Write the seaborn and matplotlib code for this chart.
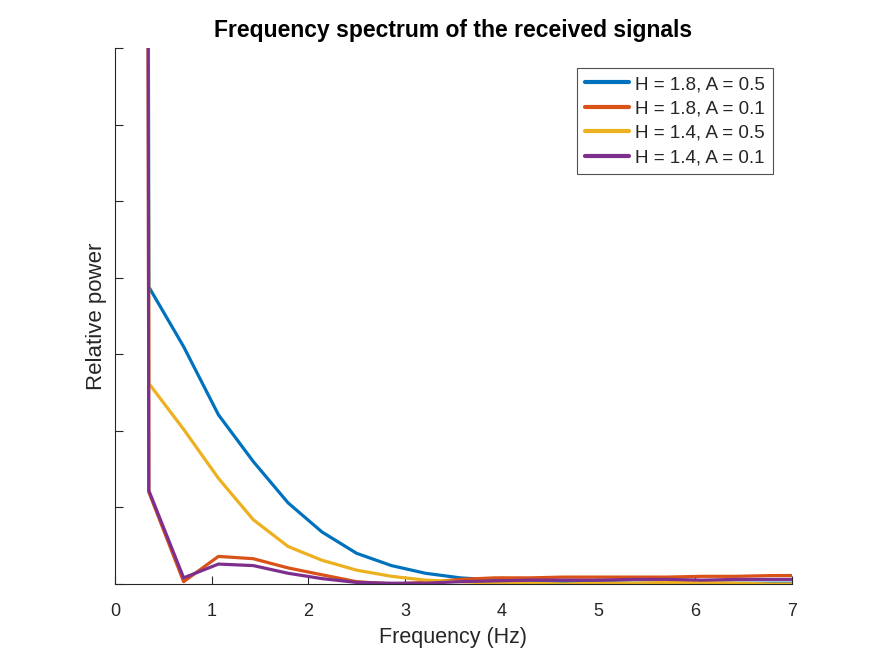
import numpy as np
import pandas as pd
import seaborn as sns
import matplotlib.pyplot as plt

# values (y in tick units, huge DC bin is clipped)
freq = [0.33, 0.35, 0.71, 1.07, 1.43, 1.79, 2.14, 2.50, 2.86, 3.21, 3.57,
        3.93, 4.29, 4.64, 5.00, 5.36, 5.71, 6.07, 6.43, 6.79, 7.14]
h18_a05 = [20, 3.88, 3.10, 2.21, 1.60, 1.06, 0.68, 0.40, 0.24, 0.14, 0.08,
           0.05, 0.03, 0.02, 0.02, 0.01, 0.01, 0.01, 0.01, 0.01, 0.01]
h18_a01 = [20, 1.20, 0.03, 0.36, 0.33, 0.21, 0.12, 0.03, 0.00, 0.02, 0.06,
           0.08, 0.08, 0.09, 0.09, 0.09, 0.09, 0.10, 0.10, 0.11, 0.11]
h14_a05 = [20, 2.62, 2.02, 1.38, 0.84, 0.49, 0.31, 0.18, 0.10, 0.05, 0.03,
           0.01, 0.01, 0.00, 0.01, 0.01, 0.02, 0.02, 0.01, 0.00, 0.00]
h14_a01 = [20, 1.22, 0.08, 0.26, 0.24, 0.14, 0.07, 0.02, 0.01, 0.01, 0.03,
           0.04, 0.05, 0.05, 0.05, 0.06, 0.06, 0.05, 0.06, 0.06, 0.06]

labels = ['H = 1.8, A = 0.5', 'H = 1.8, A = 0.1', 'H = 1.4, A = 0.5', 'H = 1.4, A = 0.1']
colors = ['#0072BD', '#D95319', '#EDB120', '#7E2F8E']
x_ticks = [0, 1, 2, 3, 4, 5, 6, 7]

frames = []
for lab, vals in zip(labels, [h18_a05, h18_a01, h14_a05, h14_a01]):
    frames.append(pd.DataFrame({'freq': freq, 'power': vals, 'series': lab}))
df = pd.concat(frames, ignore_index=True)

sns.set_theme(style='white')
plt.rcParams['font.family'] = ['Liberation Sans', 'DejaVu Sans']

fig = plt.figure(figsize=(8.75, 6.56), dpi=100)
ax = fig.add_axes([0.1314, 0.1098, 0.7735, 0.817])

sns.lineplot(data=df, x='freq', y='power', hue='series', hue_order=labels,
             palette=colors, linewidth=2.3, sort=False, estimator=None, ax=ax)

ax.set_xlim(0, 7)
ax.set_ylim(0, 7)
ax.set_xticks(x_ticks)
ax.set_yticks(range(8))
ax.set_yticklabels([])
ax.tick_params(direction='in', length=6, width=0.8, colors='#262626',
               labelsize=13, bottom=True, left=True, pad=14)
for s in ['top', 'right']:
    ax.spines[s].set_visible(False)
for s in ['left', 'bottom']:
    ax.spines[s].set_color('#262626')
    ax.spines[s].set_linewidth(0.8)

ax.set_xlabel('Frequency (Hz)', fontsize=15.5, color='#262626', labelpad=5)
ax.set_ylabel('Relative power', fontsize=16, color='#262626', labelpad=-8)
ax.set_title('Frequency spectrum of the received signals', fontsize=16.5,
             fontweight='bold', color='black', pad=8)

leg = ax.legend(loc='upper right', bbox_to_anchor=(0.972, 0.963), fontsize=13.6,
                frameon=True, fancybox=False, edgecolor='#262626',
                handlelength=2.35, handletextpad=0.3, borderpad=0.42,
                labelspacing=0.38, borderaxespad=0, title=None)
leg.get_frame().set_linewidth(0.8)
for line in leg.get_lines():
    line.set_linewidth(3)

fig.savefig('out.png', dpi=100)
